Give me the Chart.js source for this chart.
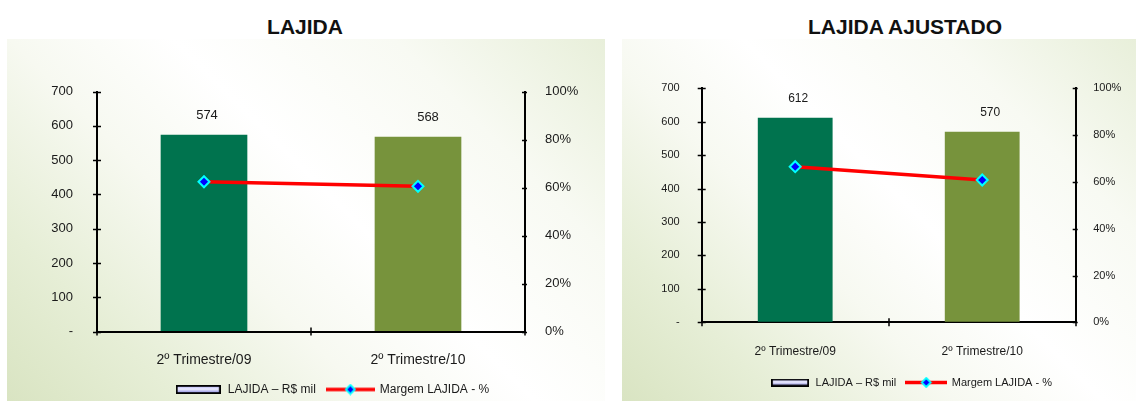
<!DOCTYPE html>
<html lang="pt-BR">
<head>
<meta charset="utf-8">
<title>LAJIDA</title>
<script src="https://cdn.jsdelivr.net/npm/chart.js@4.4.1/dist/chart.umd.min.js"></script>
<style>
  html, body { margin: 0; padding: 0; width: 1136px; height: 401px; overflow: hidden; background: #fff;
    font-family: "Liberation Sans", Arial, sans-serif; }
  .panel { position: absolute; top: 39px; height: 362px;
    background: linear-gradient(225deg, #e8efda 0%, #f8faf3 22%, #ffffff 45%, #f7f9f1 62%, #e6eed6 82%, #d9e4c2 100%); }
  .title { position: absolute; top: 16px; height: 21px; line-height: 21px; font-size: 21px; font-weight: bold;
    color: #111; text-align: center; white-space: nowrap; }
  .wrap { position: absolute; top: 0; }
  canvas { display: block; }
</style>
</head>
<body>
<div class="panel" style="left:7px;width:598px"></div>
<div class="panel" style="left:622px;width:514px"></div>
<div class="title" style="left:155px;width:300px">LAJIDA</div>
<div class="title" style="left:755px;width:300px">LAJIDA AJUSTADO</div>
<div class="wrap" style="left:0;width:664px;height:430px"><canvas id="lajida" width="664" height="430"></canvas></div>
<div class="wrap" style="left:620px;width:582px;height:430px"><canvas id="lajidaAjustado" width="582" height="430"></canvas></div>
<script>
// Periods
const categories = ['2º Trimestre/09', '2º Trimestre/10'];

// LAJIDA (R$ mil) and margin (%)
const lajida = [574, 568];
const margemLajida = [62.4, 60.5];

// Adjusted LAJIDA (R$ mil) and margin (%)
const lajidaAjustado = [612, 570];
const margemLajidaAjustado = [66.5, 60.8];

// Axis ranges
const valueAxis = { min: 0, max: 700, step: 100 };
const percentAxis = { min: 0, max: 100, step: 20 };

const barLabel = 'LAJIDA – R$ mil';
const lineLabel = 'Margem LAJIDA - %';
const barColors = ['#00734E', '#77933C'];
const textColor = '#1a1a1a';
const FONT = '"Liberation Sans", Arial, sans-serif';

// Legend swatches
function barSwatch(w, h) {
  const c = document.createElement('canvas');
  c.width = w; c.height = h;
  const g = c.getContext('2d');
  const grad = g.createLinearGradient(0, 0, 0, h);
  grad.addColorStop(0, '#9a9af0');
  grad.addColorStop(0.45, '#eeeeff');
  grad.addColorStop(1, '#6e6ed6');
  g.fillStyle = grad;
  g.fillRect(1, 1, w - 2, h - 2);
  g.strokeStyle = '#000';
  g.lineWidth = 1.8;
  g.strokeRect(0.9, 0.9, w - 1.8, h - 1.8);
  return c;
}
function lineSwatch(w, h) {
  const c = document.createElement('canvas');
  c.width = w; c.height = h;
  const g = c.getContext('2d');
  g.strokeStyle = '#ff0000';
  g.lineWidth = 3.5;
  g.beginPath(); g.moveTo(0, h / 2); g.lineTo(w, h / 2); g.stroke();
  const r = 4.5, cx = w / 2, cy = h / 2;
  g.beginPath();
  g.moveTo(cx, cy - r); g.lineTo(cx + r, cy); g.lineTo(cx, cy + r); g.lineTo(cx - r, cy); g.closePath();
  g.fillStyle = '#0000ff'; g.fill();
  g.strokeStyle = '#00ffff'; g.lineWidth = 1.8; g.stroke();
  return c;
}

// Short tick marks crossing the axis lines
const axisMarks = {
  id: 'axisMarks',
  afterDraw(chart) {
    const { ctx, chartArea } = chart;
    const { x, y, y1 } = chart.scales;
    ctx.save();
    ctx.strokeStyle = '#000';
    ctx.lineWidth = 1.5;
    ctx.beginPath();
    y.ticks.forEach(t => {
      const py = Math.round(y.getPixelForValue(t.value)) + 0.5;
      ctx.moveTo(chartArea.left - 4, py); ctx.lineTo(chartArea.left + 4, py);
    });
    y1.ticks.forEach(t => {
      const py = Math.round(y1.getPixelForValue(t.value)) + 0.5;
      ctx.moveTo(chartArea.right - 3, py); ctx.lineTo(chartArea.right + 2, py);
    });
    for (let i = 0; i <= categories.length; i++) {
      const px = Math.round(x.getPixelForValue(i - 0.5));
      ctx.moveTo(px, chartArea.bottom - 4); ctx.lineTo(px, chartArea.bottom + 4);
    }
    ctx.stroke();
    ctx.restore();
  }
};

// Value labels above the bars
const barValues = {
  id: 'barValues',
  afterDatasetsDraw(chart, args, opts) {
    const { ctx } = chart;
    chart.data.datasets.forEach((ds, di) => {
      if (ds.type !== 'bar') return;
      const meta = chart.getDatasetMeta(di);
      ctx.save();
      ctx.font = `${opts.size}px ${FONT}`;
      ctx.fillStyle = textColor;
      ctx.textAlign = 'center';
      ctx.textBaseline = 'middle';
      meta.data.forEach((el, i) => {
        ctx.fillText(String(ds.data[i]), el.x + (opts.dx[i] || 0), el.y - opts.gap);
      });
      ctx.restore();
    });
  }
};

function buildChart(canvasId, barData, lineData, L) {
  const swatches = [barSwatch(L.barSw[0], L.barSw[1]), lineSwatch(L.lineSw[0], L.lineSw[1])];
  return new Chart(document.getElementById(canvasId), {
    data: {
      labels: categories,
      datasets: [
        { type: 'line', label: lineLabel, data: lineData, yAxisID: 'y1', order: 0,
          borderColor: '#ff0000', borderWidth: 3.5, tension: 0, fill: false,
          pointStyle: 'rectRot', pointRadius: 5.5, pointBackgroundColor: '#0000ff',
          pointBorderColor: '#00ffff', pointBorderWidth: 2 },
        { type: 'bar', label: barLabel, data: barData, yAxisID: 'y', order: 1,
          backgroundColor: barColors, borderWidth: 0,
          categoryPercentage: 1, barPercentage: L.barPct }
      ]
    },
    options: {
      responsive: false,
      animation: false,
      events: [],
      layout: { padding: L.padding },
      scales: {
        x: {
          type: 'category', offset: true,
          grid: { display: true, drawOnChartArea: false, drawTicks: false, offset: true },
          border: { display: true, color: '#000', width: 2 },
          ticks: { color: textColor, padding: L.xPad, maxRotation: 0, font: { family: FONT, size: L.xFont } },
          afterFit(s) { s.height = L.xHeight; }
        },
        y: {
          position: 'left', min: valueAxis.min, max: valueAxis.max,
          grid: { display: true, drawOnChartArea: false, drawTicks: false },
          border: { display: true, color: '#000', width: 2 },
          ticks: { stepSize: valueAxis.step, color: textColor, padding: L.yPad,
            font: { family: FONT, size: L.tickFont }, callback: v => (v === 0 ? '-' : String(v)) },
          afterFit(s) { s.width = L.yWidth; }
        },
        y1: {
          position: 'right', min: percentAxis.min, max: percentAxis.max,
          grid: { display: true, drawOnChartArea: false, drawTicks: false },
          border: { display: true, color: '#000', width: 2 },
          ticks: { stepSize: percentAxis.step, color: textColor, padding: L.y1Pad,
            font: { family: FONT, size: L.tickFont }, callback: v => v + '%' },
          afterFit(s) { s.width = L.y1Width; }
        }
      },
      plugins: {
        title: { display: false },
        tooltip: { enabled: false },
        legend: {
          position: 'bottom',
          labels: {
            usePointStyle: true, pointStyleWidth: L.legendBox, padding: L.legendPad,
            color: textColor, font: { family: FONT, size: L.legendFont },
            generateLabels() {
              return [
                { text: barLabel, pointStyle: swatches[0], datasetIndex: 1, fontColor: textColor, lineWidth: 0 },
                { text: lineLabel, pointStyle: swatches[1], datasetIndex: 0, fontColor: textColor, lineWidth: 0 }
              ];
            }
          }
        },
        barValues: { size: L.valueFont, gap: L.valueGap, dx: L.valueDx }
      }
    },
    plugins: [axisMarks, barValues]
  });
}

buildChart('lajida', lajida, margemLajida, {
  padding: { left: 0, right: 0, top: 91.5, bottom: 24.5 },
  yWidth: 97, y1Width: 139, xHeight: 41,
  xPad: 20, yPad: 24, y1Pad: 20,
  xFont: 14, tickFont: 13, legendFont: 12, valueFont: 13,
  legendBox: 47, legendPad: 11, barSw: [45, 9], lineSw: [49, 12],
  barPct: 0.405, valueGap: 19, valueDx: [3, 10]
});

buildChart('lajidaAjustado', lajidaAjustado, margemLajidaAjustado, {
  padding: { left: 0, right: 0, top: 88.3, bottom: 32 },
  yWidth: 81.7, y1Width: 126.3, xHeight: 44.7,
  xPad: 22, yPad: 22, y1Pad: 17.5,
  xFont: 12, tickFont: 11, legendFont: 11, valueFont: 12,
  legendBox: 40, legendPad: 10, barSw: [38, 8], lineSw: [42, 11],
  barPct: 0.4, valueGap: 19, valueDx: [3, 8]
});
</script>
</body>
</html>
